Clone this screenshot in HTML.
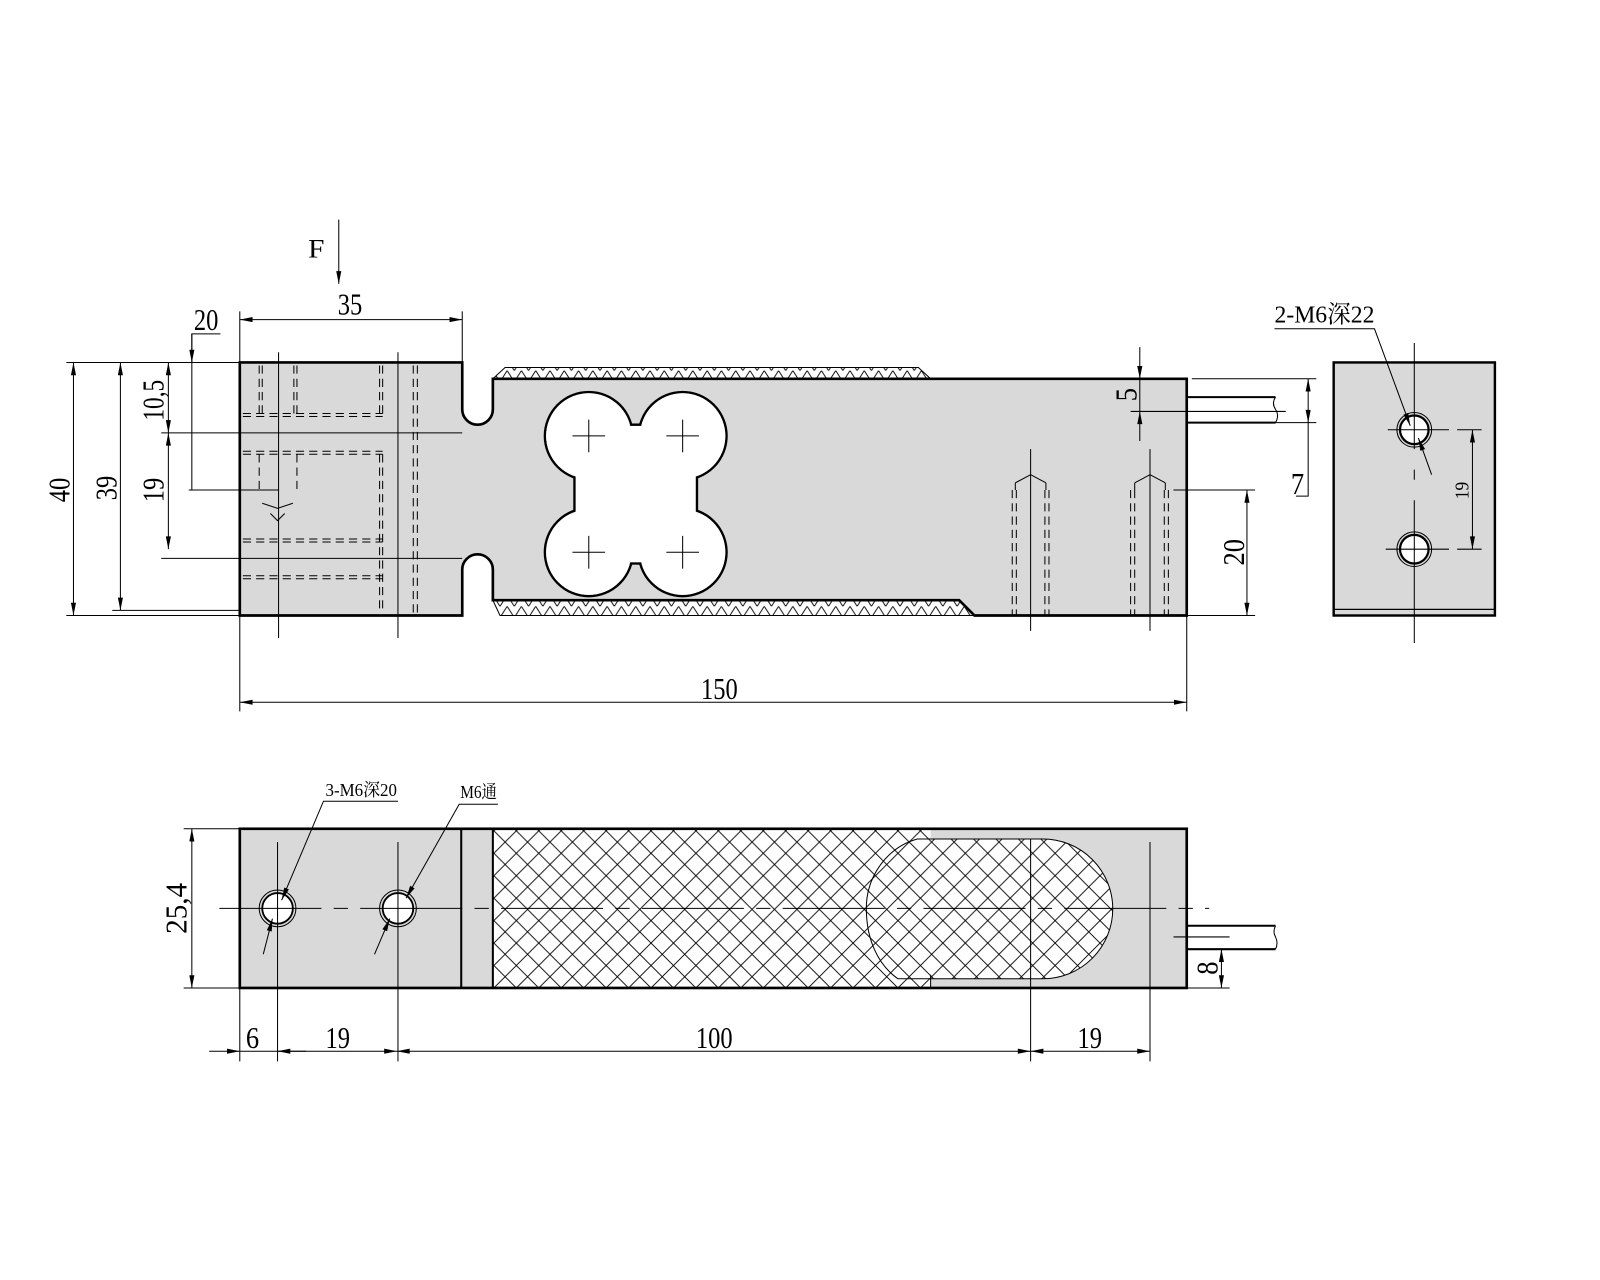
<!DOCTYPE html>
<html><head><meta charset="utf-8"><style>
html,body{margin:0;padding:0;background:#fff;}
svg{display:block;}
text{font-family:"Liberation Serif","Noto Serif CJK SC","Noto Sans CJK SC",serif;fill:#000;}
</style></head><body>
<svg width="1600" height="1280" viewBox="0 0 1568 1254" xmlns="http://www.w3.org/2000/svg">
<defs>
<pattern id="hx" width="22" height="22" patternUnits="userSpaceOnUse">
<rect width="22" height="22" fill="#fff"/>
<path d="M0 0L22 22M22 0L0 22" stroke="#000" stroke-width="0.9"/>
</pattern>
<pattern id="hs" width="14" height="11" patternUnits="userSpaceOnUse">
<rect width="14" height="11" fill="#fff"/>
<path d="M0 11L7 0L14 11" stroke="#000" stroke-width="0.9" fill="none"/>
</pattern>
<marker id="a" viewBox="0 0 10 4" refX="10" refY="2" markerWidth="14" markerHeight="5" markerUnits="userSpaceOnUse" orient="auto-start-reverse"><path d="M0 0L10 2L0 4z" fill="#000"/></marker>
</defs>
<g stroke="#000" fill="none" stroke-width="1.2">

<!-- ===== FRONT VIEW ===== -->
<path d="M483 371L495 360L900 360L912 371Z" fill="url(#hs)" stroke="#000" stroke-width="1"/>
<path d="M483 588L940 588L955 603L490 603Z" fill="url(#hs)" stroke="#000" stroke-width="1"/>
<path d="M235 355L453 355L453 401A15 15 0 0 0 483 401L483 371L1163 371L1163 603L955 603L940 588L483 588L483 558A15 15 0 0 0 453 558L453 603L235 603Z" fill="#d9d9d9" stroke-width="2.6"/>
<!-- clover cutout -->
<g stroke-width="2.4" fill="#fff">
<circle cx="577" cy="427" r="43"/><circle cx="669" cy="427" r="43"/>
<circle cx="577" cy="541" r="43"/><circle cx="669" cy="541" r="43"/>
<rect x="563" y="463" width="120" height="40"/>
<rect x="614" y="416" width="18" height="136"/>
</g>
<g stroke="none" fill="#fff">
<circle cx="577" cy="427" r="41.8"/><circle cx="669" cy="427" r="41.8"/>
<circle cx="577" cy="541" r="41.8"/><circle cx="669" cy="541" r="41.8"/>
<rect x="564.3" y="464.3" width="117.4" height="37.4"/>
<rect x="615.3" y="417.3" width="15.4" height="133.4"/>
<rect x="582" y="442" width="82" height="84"/>
</g>
<g stroke-width="1">
<path d="M561 427h32M577 411v32M653 427h32M669 411v32M561 541h32M577 525v32M653 541h32M669 525v32"/>
</g>
<!-- hidden lines left block -->
<g stroke-width="1" stroke-dasharray="8 5">
<path d="M254 358V405M257 358V405M288 358V405M291 358V405M372 358V405M375 358V405"/>
<path d="M238 405H375M238 408H375M238 442H375M238 445H375"/>
<path d="M254 445V480M291 445V480"/>
<path d="M238 528H375M238 531H375M238 564H375M238 567H375"/>
<path d="M372 445V600M375 445V600M405 358V600M409 358V600"/>
</g>
<path d="M257 493L272 498L287 493M265 503L272 510L279 503" stroke-width="1"/>
<g stroke-width="1">
<path d="M273 345V625M390 345V625"/>
<path d="M158 424H453M158 547H453M185 480H273"/>
</g>
<g stroke-width="1" stroke-dasharray="8 5">
<path d="M992 480V603M996 480V603M1024 480V603M1028 480V603M1108 480V603M1112 480V603M1141 480V603M1145 480V603"/>
</g>
<g stroke-width="1">
<path d="M1010 440V618M1127 440V618"/>
<path d="M995 473L1010 465L1025 473M995 473V480M1025 473V480M1112 473L1127 465L1142 473M1112 473V480M1142 473V480"/>
</g>
<path d="M1163 389H1250M1163 414H1250" stroke-width="2"/>
<path d="M1250 389q-4 6 0 12q4 6 0 13" stroke-width="1"/>
<path d="M1108 403H1260" stroke-width="1"/>
<g stroke-width="1">
<path d="M65 355H235M65 603H235M110 598H235"/>
<path d="M72 355V603" marker-start="url(#a)" marker-end="url(#a)"/>
<path d="M118 355V598" marker-start="url(#a)" marker-end="url(#a)"/>
<path d="M165 355V424" marker-start="url(#a)" marker-end="url(#a)"/>
<path d="M165 424V538" marker-start="url(#a)" marker-end="url(#a)"/>
<path d="M158 355H235"/>
<path d="M216 327H188V480"/>
<path d="M188 327V355" marker-end="url(#a)"/>
<path d="M235 305V355M453 305V355"/>
<path d="M235 313H453" marker-start="url(#a)" marker-end="url(#a)"/>
<path d="M332 215V278" marker-end="url(#a)"/>
<path d="M235 603V697M1163 603V697"/>
<path d="M235 688H1163" marker-start="url(#a)" marker-end="url(#a)"/>
<path d="M1117 340V371" marker-end="url(#a)"/>
<path d="M1117 432V403" marker-end="url(#a)"/>
<path d="M1117 371V403"/>
<path d="M1168 371H1290M1250 414H1290"/>
<path d="M1282 371V414" marker-start="url(#a)" marker-end="url(#a)"/>
<path d="M1282 414V486H1270"/>
<path d="M1150 480H1230M1163 603H1230"/>
<path d="M1222 480V603" marker-start="url(#a)" marker-end="url(#a)"/>
</g>
<!-- ===== RIGHT VIEW ===== -->
<rect x="1307" y="355" width="158" height="248" fill="#d9d9d9" stroke-width="2.4"/>
<path d="M1307 597H1465" stroke-width="1.2"/>
<g fill="#fff" stroke-width="2.2">
<circle cx="1386" cy="421" r="14"/><circle cx="1386" cy="538" r="14"/>
</g>
<circle cx="1386" cy="421" r="17" stroke-width="1"/>
<circle cx="1386" cy="538" r="17" stroke-width="1"/>
<g stroke-width="1">
<path d="M1386 336V440M1386 460V470M1386 490V630"/>
<path d="M1360 421H1420M1428 421H1452M1358 538H1420M1428 538H1452"/>
<path d="M1443 421V538" marker-start="url(#a)" marker-end="url(#a)"/>
<path d="M1249 322H1347L1382 417" marker-end="url(#a)"/>
<path d="M1403 465L1390 429" marker-end="url(#a)"/>
</g>
<!-- ===== BOTTOM VIEW ===== -->
<rect x="235" y="812" width="928" height="156" fill="#d9d9d9"/>
<path d="M483 812H912V968H483Z" fill="url(#hx)" stroke="none"/>
<path d="M899 822H1022A68 68 0 0 1 1022 959H880C860 945 849 920 849 890C849 858 870 830 899 822Z" fill="url(#hx)" stroke-width="1"/>
<rect x="235" y="812" width="928" height="156" fill="none" stroke-width="2.6"/>
<path d="M452 812V968M483 812V968" stroke-width="2"/>
<path d="M912 968V955" stroke-width="1"/>
<g fill="#fff" stroke-width="1.8">
<circle cx="272" cy="890" r="15"/><circle cx="390" cy="890" r="15"/>
</g>
<circle cx="272" cy="890" r="18" stroke-width="1"/>
<circle cx="390" cy="890" r="18" stroke-width="1"/>
<g stroke-width="1">
<path d="M215 890H1185" stroke-dasharray="100 12 14 12"/>
<path d="M272 825V1040M390 825V1040M1010 822V1040M1127 825V1040M235 968V1040"/>
<path d="M180 812H235M180 968H235"/>
<path d="M188 812V968" marker-start="url(#a)" marker-end="url(#a)"/>
<path d="M205 1030H235" marker-end="url(#a)"/>
<path d="M235 1030H272M272 1030H389" marker-end="url(#a)"/>
<path d="M389 1030H1010" marker-start="url(#a)" marker-end="url(#a)"/>
<path d="M1010 1030H1127" marker-start="url(#a)" marker-end="url(#a)"/>
<path d="M272 1030H300" marker-start="url(#a)"/>
<path d="M1163 907H1250M1163 930H1250" stroke-width="2"/>
<path d="M1250 907q-3 6 0 11q3 6 0 12" stroke-width="1"/>
<path d="M1150 918H1205M1163 968H1205"/>
<path d="M1197 930V968" marker-start="url(#a)" marker-end="url(#a)"/>
<path d="M390 785H317L276 882" marker-end="url(#a)"/>
<path d="M258 935L267 900" marker-end="url(#a)"/>
<path d="M488 788H450L398 880" marker-end="url(#a)"/>
<path d="M367 935L382 900" marker-end="url(#a)"/>
</g>
</g>
<g font-size="30">
<text x="302" y="252" textLength="16" lengthAdjust="spacingAndGlyphs" font-size="26">F</text>
<text x="331" y="308" textLength="24" lengthAdjust="spacingAndGlyphs">35</text>
<text x="190" y="323" textLength="24" lengthAdjust="spacingAndGlyphs">20</text>
<text x="687" y="685" textLength="36" lengthAdjust="spacingAndGlyphs">150</text>
<text x="241" y="1027" textLength="13" lengthAdjust="spacingAndGlyphs">6</text>
<text x="319" y="1027" textLength="24" lengthAdjust="spacingAndGlyphs">19</text>
<text x="682" y="1027" textLength="36" lengthAdjust="spacingAndGlyphs">100</text>
<text x="1056" y="1027" textLength="24" lengthAdjust="spacingAndGlyphs">19</text>
<text x="1265" y="484" textLength="13" lengthAdjust="spacingAndGlyphs">7</text>
<text transform="translate(68,492) rotate(-90)" textLength="24" lengthAdjust="spacingAndGlyphs">40</text>
<text transform="translate(114,490) rotate(-90)" textLength="24" lengthAdjust="spacingAndGlyphs">39</text>
<text transform="translate(160,412) rotate(-90)" textLength="40" lengthAdjust="spacingAndGlyphs">10,5</text>
<text transform="translate(160,492) rotate(-90)" textLength="24" lengthAdjust="spacingAndGlyphs">19</text>
<text transform="translate(1114,393) rotate(-90)" textLength="13" lengthAdjust="spacingAndGlyphs">5</text>
<text transform="translate(1219,554) rotate(-90)" textLength="26" lengthAdjust="spacingAndGlyphs">20</text>
<text transform="translate(183,915) rotate(-90)" textLength="50" lengthAdjust="spacingAndGlyphs">25,4</text>
<text transform="translate(1193,955) rotate(-90)" textLength="13" lengthAdjust="spacingAndGlyphs">8</text>
<text transform="translate(1439,489) rotate(-90)" font-size="20" textLength="17" lengthAdjust="spacingAndGlyphs">19</text>
<text x="1249" y="316" font-size="24" textLength="98" lengthAdjust="spacingAndGlyphs">2-M6深22</text>
<text x="319" y="780" font-size="18" textLength="70" lengthAdjust="spacingAndGlyphs">3-M6深20</text>
<text x="451" y="782" font-size="18" textLength="36" lengthAdjust="spacingAndGlyphs">M6通</text>
</g>
</svg>
</body></html>
